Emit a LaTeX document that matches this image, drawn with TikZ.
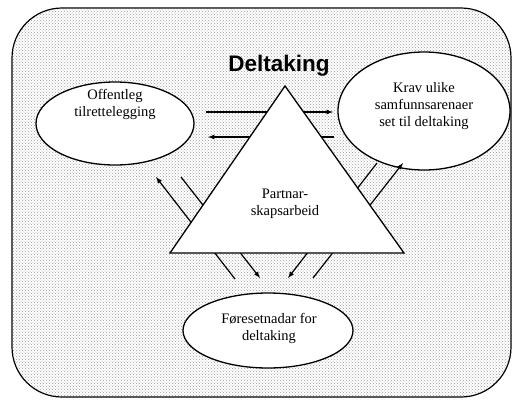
\documentclass[tikz,border=0pt]{standalone}
\usepackage{fontspec}
\setmainfont{Liberation Serif}
\newfontfamily\titlefont{Liberation Sans}
\usetikzlibrary{patterns}
\usetikzlibrary{arrows}
\usetikzlibrary{shapes}
\usetikzlibrary{positioning}

\tikzset{
  ellbox/.style={draw, ellipse, fill=white, line width=1.3pt, inner sep=0pt},
  txt/.style={align=center, font=\fontsize{14.5}{17}\selectfont, inner sep=0pt},
  link/.style={line width=1.2pt},
  arr/.style={link, ->, >=latex}
}

\begin{document}
\begin{tikzpicture}[x=1pt, y=-1pt]
      \useasboundingbox (0,0) rectangle (513,400);

      % background
      \draw[line width=1.2pt, rounded corners=50pt, fill=white] (12,8) rectangle (511,397);
      \fill[rounded corners=50pt, pattern=crosshatch dots, pattern color=black!38] (12.6,8.6) rectangle (510.4,396.4);

      \node[font=\titlefont\bfseries\fontsize{22.5}{26}\selectfont] (title) at (279,66) {Deltaking};

      % ellipses
      \node[ellbox, minimum width=158pt, minimum height=83pt] (off) at (115,123.5) {};
      \node[txt] (offtxt) at (115,104) {Offentleg\\tilrettelegging};

      \node[ellbox, minimum width=172pt, minimum height=118pt] (krav) at (424,111) {};
      \node[txt] (kravtxt) at (424,106) {Krav ulike\\samfunnsarenaer\\set til deltaking};

      \node[ellbox, minimum width=170pt, minimum height=75pt] (fore) at (268,330.5) {};
      \node[txt] (foretxt) at (269,328) {Føresetnadar for\\deltaking};

      % connectors (behind the triangle)
      \coordinate (h1a) at (206,112);  \coordinate (h1b) at (333,112);
      \coordinate (h2a) at (334,137);  \coordinate (h2b) at (208,137);
      \draw[arr] (h1a) -- (h1b);
      \draw[arr] (h2a) -- (h2b);

      \coordinate (l1a) at (181,177);  \coordinate (l1b) at (260,278);
      \coordinate (l2a) at (235,279);  \coordinate (l2b) at (156,177);
      \draw[arr] (l1a) -- (l1b);
      \draw[arr] (l2a) -- (l2b);

      \coordinate (r1a) at (377,163);  \coordinate (r1b) at (288,278);
      \coordinate (r2a) at (313,278);  \coordinate (r2b) at (403,163);
      \draw[arr] (r1a) -- (r1b);
      \draw[arr] (r2a) -- (r2b);

      % triangle
      \coordinate (top) at (285,86);
      \coordinate (bl) at (170,253);
      \coordinate (br) at (404,253);
      \draw[line width=1.3pt, fill=white, line join=miter] (top) -- (br) -- (bl) -- cycle;
      \node[txt] (part) at (285,204) {Partnar-\\skapsarbeid};
\end{tikzpicture}
\end{document}
